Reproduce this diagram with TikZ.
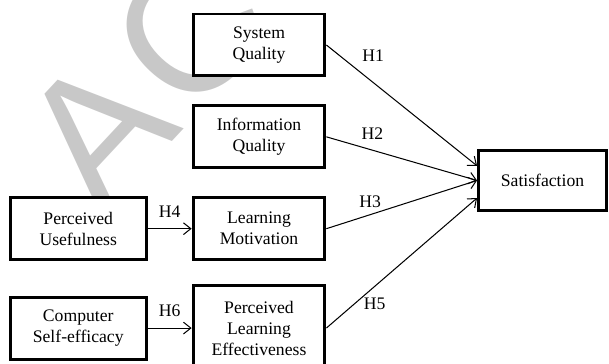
\documentclass[tikz,border=0pt]{standalone}
\usepackage{fontspec}
\setmainfont{Liberation Serif}
\newfontfamily\stampfont{Liberation Sans}
\usepackage{tikz}
\usetikzlibrary{positioning, arrows.meta}
\definecolor{stampgray}{RGB}{200,200,200}
\tikzset{
  construct/.style={
    rectangle, draw=black, line width=2pt, fill=white, align=center,
    minimum width=3.15cm, minimum height=1.48cm, inner sep=2pt,
    font=\fontsize{12}{14.3}\selectfont
  },
  every edge/.style={draw, ->, >={Straight Barb[length=5pt,width=8pt]}, line width=0.7pt},
  hyp/.style={font=\fontsize{12}{14.3}\selectfont},
}

\begin{document}
\begin{tikzpicture}[node distance=0.645cm and 1.05cm]
  \useasboundingbox (0,0) rectangle (14.555,8.699);
  \clip (0,0) rectangle (14.555,8.699);
  % faint stamp behind the boxes
  \node[rotate=47, anchor=base west, inner sep=0, text=stampgray,
        font=\stampfont\fontsize{124}{124}\selectfont] (stamp) at (2.42,3.50) {A\hspace{6pt}C};

  \node[construct] (SQ) at (6.19,7.624) {System\\Quality};
  \node[construct, below=of SQ] (IQ) {Information\\Quality};
  \node[construct, below=of IQ] (LM) {Learning\\Motivation};
  \node[construct, below=0.55cm of LM, minimum height=2.03cm] (PLE) {Perceived\\Learning\\Effectiveness};
  \node[construct, left=of LM, minimum width=3.25cm] (PU) {Perceived\\Usefulness};
  \node[construct, left=of PLE, minimum width=3.25cm] (CSE) {Computer\\Self-efficacy};
  \node[construct, minimum width=3.06cm, minimum height=1.43cm] (SAT) at (12.966,4.386) {Satisfaction};

  \path (SQ.east) edge node[hyp, pos=0.31, above=0.36cm]{H1} ([yshift=0.35cm]SAT.west)
        (IQ.east) edge node[hyp, pos=0.305, above=0.12cm]{H2} (SAT.west)
        (LM.east) edge node[hyp, pos=0.29, above=0.05cm]{H3} (SAT.west)
        (PLE.east) edge node[hyp, pos=0.32, below=0.14cm]{H5} ([yshift=-0.42cm]SAT.west)
        (PU) edge node[hyp, above=0.14cm]{H4} (LM)
        (CSE) edge node[hyp, above=0.14cm]{H6} (PLE);
\end{tikzpicture}
\end{document}
